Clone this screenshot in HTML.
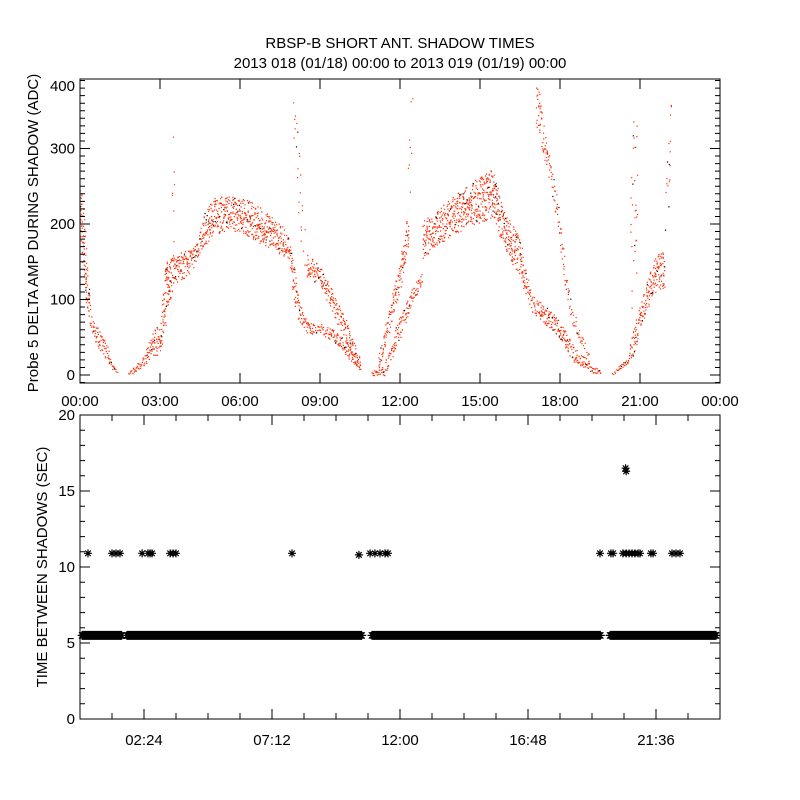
<!DOCTYPE html>
<html><head><meta charset="utf-8"><style>
html,body{margin:0;padding:0;background:#fff}
svg{display:block}
text{font-family:"Liberation Sans",sans-serif;font-size:15px;fill:#000}
</style></head><body>
<svg id="c" width="800" height="800" viewBox="0 0 800 800" xmlns="http://www.w3.org/2000/svg">
<text x="400" y="48" text-anchor="middle">RBSP-B SHORT ANT. SHADOW TIMES</text>
<text x="400" y="68" text-anchor="middle">2013 018 (01/18) 00:00 to 2013 019 (01/19) 00:00</text>
<text transform="translate(38,233) rotate(-90)" text-anchor="middle">Probe 5 DELTA AMP DURING SHADOW (ADC)</text>
<text transform="translate(47,567) rotate(-90)" text-anchor="middle">TIME BETWEEN SHADOWS (SEC)</text>
<g id="topPanel"></g>
<g id="botPanel"></g>
</svg>
<script>
// ---------- top panel data (hour, low, high envelopes of scatter) ----------
const b1T=[0.0,0.2,0.4,0.6,0.8,1.0,1.2,1.4];
const b1Lo=[180,100,60,40,30,20,8,3];
const b1Hi=[250,200,80,65,55,40,15,5];
const b2T=[1.8,2.1,2.4,2.6,2.8,3.0,3.2,3.5,4.0,4.4,4.6,5.0,5.5,6.0,6.5,7.0,7.5,7.8,8.0,8.2,8.5,9.0,9.5,10.0,10.5];
const b2Lo=[0,5,10,20,25,28,60,120,130,150,170,185,190,190,180,170,160,155,100,70,55,55,45,25,5];
const b2Hi=[3,15,25,50,60,70,150,160,165,175,210,235,238,235,230,215,200,190,150,100,70,68,60,45,15];
const b3T=[8.5,9.0,9.5,10.0,10.5];
const b3Lo=[130,120,80,40,10];
const b3Hi=[160,145,110,70,20];
const s1T=[3.45,3.55];const s1Lo=[100,150];const s1Hi=[300,400];
const s2T=[7.95,8.2,8.45];const s2Lo=[340,200,130];const s2Hi=[400,300,200];
const b4T=[10.95,11.4,12.0,12.4,12.8];
const b4Lo=[0,0,50,90,120];
const b4Hi=[5,15,80,110,140];
const b5T=[11.2,11.6,12.0,12.3];
const b5Lo=[10,60,110,170];
const b5Hi=[30,90,150,220];
const s3T=[12.3,12.45];const s3Lo=[180,300];const s3Hi=[300,400];
const b6T=[12.85,13.5,14.5,15.5,15.9,16.5,16.9,17.9,18.5,19.1,19.5];
const b6Lo=[155,175,196,209,165,130,85,52,18,5,0];
const b6Hi=[205,222,252,274,218,180,107,78,40,18,5];
const b7T=[17.1,17.6,17.9,18.2,18.4,18.8,19.1];
const b7Lo=[330,250,200,110,70,40,20];
const b7Hi=[400,290,230,150,95,55,30];
const b8T=[19.95,20.5,20.75,21.0,21.3,21.6,21.9];
const b8Lo=[0,15,25,60,90,110,115];
const b8Hi=[3,22,60,95,130,160,165];
const s4T=[20.65,20.9];const s4Lo=[60,150];const s4Hi=[300,400];
const s5T=[21.95,22.15];const s5Lo=[170,250];const s5Hi=[260,400];
const topBands=[[b1T,b1Lo,b1Hi,1],[b2T,b2Lo,b2Hi,1],[b3T,b3Lo,b3Hi,1],[s1T,s1Lo,s1Hi,0.15],[s2T,s2Lo,s2Hi,0.25],[b4T,b4Lo,b4Hi,1],[b5T,b5Lo,b5Hi,1],[s3T,s3Lo,s3Hi,0.2],[b6T,b6Lo,b6Hi,1],[b7T,b7Lo,b7Hi,0.6],[b8T,b8Lo,b8Hi,1],[s4T,s4Lo,s4Hi,0.2],[s5T,s5Lo,s5Hi,0.25]];
const topYTicks=[0,100,200,300,400];
const topXLabels=["00:00","03:00","06:00","09:00","12:00","15:00","18:00","21:00","00:00"];

// ---------- bottom panel data ----------
const bandStart=[0.08,1.76,10.95,19.88];
const bandEnd=[1.58,10.58,19.54,24.0];
const bandValue=5.5;
const oddHours=[0.3,1.2,1.35,1.5,2.33,2.55,2.63,2.7,3.38,3.49,3.6,7.95,10.46,10.88,11.06,11.25,11.44,11.55,19.5,19.91,19.99,20.36,20.48,20.59,20.7,20.81,20.93,21.0,21.41,21.49,22.2,22.35,22.5,20.46,20.48];
const oddValues=[10.9,10.9,10.9,10.9,10.9,10.9,10.9,10.9,10.9,10.9,10.9,10.9,10.8,10.9,10.9,10.9,10.9,10.9,10.9,10.9,10.9,10.9,10.9,10.9,10.9,10.9,10.9,10.9,10.9,10.9,10.9,10.9,10.9,16.5,16.3];
const botYTicks=[0,5,10,15,20];
const botXLabels=["02:24","07:12","12:00","16:48","21:36"];

// ---------- scales ----------
const X0=80,X1=720;
const xH=h=>X0+h*(X1-X0)/24;
const TY0=383,TY1=79;
const yTop=v=>375-v*0.755;
const BY0=719,BY1=415;
const yBot=v=>BY0-v*(BY0-BY1)/20;
const NS="http://www.w3.org/2000/svg";
function mk(tag,attrs,parent){const e=document.createElementNS(NS,tag);for(const k in attrs)e.setAttribute(k,attrs[k]);parent.appendChild(e);return e;}
function interp(ts,vs,t){for(let i=0;i<ts.length-1;i++){if(t>=ts[i]&&t<=ts[i+1]){const f=(t-ts[i])/(ts[i+1]-ts[i]);return vs[i]+f*(vs[i+1]-vs[i]);}}return vs[vs.length-1];}
function hash(n){const s=Math.sin(n*12.9898)*43758.5453;return s-Math.floor(s);}

const topG=document.getElementById('topPanel');
const botG=document.getElementById('botPanel');

// top scatter
let red="",blk="",k=0;
topBands.forEach(([ts,lo,hi,dens])=>{
  const t0=ts[0],t1=ts[ts.length-1];
  for(let t=t0;t<=t1;t+=1/26.667){
    const l=interp(ts,lo,t),h=interp(ts,hi,t);
    const span=(h-l)*0.755;
    let n=Math.max(1,Math.round((span/7+1)*dens));
    if(dens<1&&hash(k+0.5)>dens*2.5)n=Math.max(0,n-1);
    for(let j=0;j<n;j++){
      k++;
      const v=l+(h-l)*hash(k);
      const x=xH(t)+(hash(k*3.1)-0.5), y=yTop(v);
      if(y<TY1||y>TY0)continue;
      const seg=`M${x.toFixed(1)} ${y.toFixed(1)}h1.2v1.2h-1.2z`;
      if(hash(k*7.7)<0.05)blk+=seg;else red+=seg;
    }
  }
});
const pr=mk('path',{d:red,fill:'#ff2a00'},topG);


const pb=mk('path',{d:blk,fill:'#000'},topG);



// top frame & ticks
const tf=mk('rect',{x:X0,y:TY1,width:X1-X0,height:TY0-TY1,fill:'none',stroke:'#000','stroke-width':1},topG);


let tk="";
for(let v=-10;v<=390;v+=10){const y=yTop(v);if(y<TY1||y>TY0)continue;const L=(v%100===0)?10:5;tk+=`M${X0} ${y}h${L}M${X1} ${y}h${-L}`;}
for(let h=3;h<24;h+=3){const x=xH(h);tk+=`M${x} ${TY0}v-10M${x} ${TY1}v10`;}
const tt=mk('path',{d:tk,stroke:'#000','stroke-width':1,fill:'none'},topG);


topYTicks.forEach(v=>{const y=Math.max(yTop(v),86);const e=mk('text',{x:75,y:y+5,'text-anchor':'end'},topG);e.textContent=v;

});
topXLabels.forEach((s,i)=>{const e=mk('text',{x:xH(i*3),y:406,'text-anchor':'middle'},topG);e.textContent=s;

});

// bottom stars
function star(x,y,r){const d=r*0.7;return `M${x-r} ${y}h${2*r}M${x} ${y-r}v${2*r}M${x-d} ${y-d}l${2*d} ${2*d}M${x-d} ${y+d}l${2*d} ${-2*d}`;}
let sd="";
bandStart.forEach((s,i)=>{for(let h=s;h<=bandEnd[i];h+=0.04){sd+=star(Math.min(xH(h),X1-4),yBot(bandValue),4.5);}});
oddHours.forEach((h,i)=>{sd+=star(xH(h),yBot(oddValues[i]),4);});
const sp=mk('path',{d:sd,stroke:'#000','stroke-width':1.2,fill:'none'},botG);



const bf=mk('rect',{x:X0,y:BY1,width:X1-X0,height:BY0-BY1,fill:'none',stroke:'#000','stroke-width':1},botG);


let bk="";
for(let v=1;v<20;v++){const y=yBot(v);const L=(v%5===0)?10:5;bk+=`M${X0} ${y}h${L}M${X1} ${y}h${-L}`;}
for(let i=1;i<20;i++){const x=X0+i*32;const len=(i%4===2)?10:6;bk+=`M${x} ${BY0}v${-len}M${x} ${BY1}v${len}`;}
const bt=mk('path',{d:bk,stroke:'#000','stroke-width':1,fill:'none'},botG);


botYTicks.forEach(v=>{const e=mk('text',{x:75,y:yBot(v)+5,'text-anchor':'end'},botG);e.textContent=v;

});
botXLabels.forEach((s,i)=>{const e=mk('text',{x:xH(2.4+i*4.8),y:745,'text-anchor':'middle'},botG);e.textContent=s;

});
</script>
</body></html>
